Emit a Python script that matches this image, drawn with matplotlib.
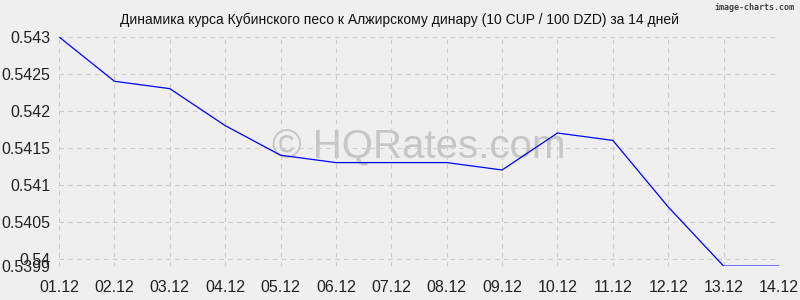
import matplotlib
matplotlib.use("Agg")
import matplotlib.pyplot as plt

plt.rcParams['font.family'] = ['Liberation Sans', 'DejaVu Sans']

dates = ["01.12", "02.12", "03.12", "04.12", "05.12", "06.12", "07.12",
         "08.12", "09.12", "10.12", "11.12", "12.12", "13.12", "14.12"]
rates = [0.5430, 0.5424, 0.5423, 0.5418, 0.5414, 0.5413, 0.5413,
         0.5413, 0.5412, 0.5417, 0.5416, 0.5407, 0.5399, 0.5399]
yticks = [0.5399, 0.54, 0.5405, 0.541, 0.5415, 0.542, 0.5425, 0.543]
ytick_labels = ["0.5399", "0.54", "0.5405", "0.541", "0.5415", "0.542", "0.5425", "0.543"]
title = "Динамика курса Кубинского песо к Алжирскому динару (10 CUP / 100 DZD) за 14 дней"

bg = '#efefef'
fig = plt.figure(figsize=(8, 3), dpi=100, facecolor=bg)
ax = fig.add_axes([0.07375, 0.113, 0.9, 0.764], facecolor=bg)

x = list(range(len(dates)))
ax.plot(x, rates, color='#0000ff', linewidth=0.9, zorder=3)

ax.set_xlim(0, len(dates) - 1)
ax.set_ylim(min(yticks), max(yticks))
ax.set_xticks(x)
ax.set_xticklabels(dates)
ax.set_yticks(yticks)
ax.set_yticklabels(ytick_labels)
ax.tick_params(axis='both', labelsize=11.5, colors='#222222')
ax.tick_params(axis='x', pad=10, length=0)
ax.tick_params(axis='y', length=0, pad=6)

ax.grid(True, color='#cccccc', linestyle=(0, (4, 4)), linewidth=0.8, zorder=2)
ax.set_axisbelow(False)
for s in ax.spines.values():
    s.set_visible(False)

# watermark
ax.text(0.5, 0.52, "© HQRates.com", transform=ax.transAxes, ha='center', va='center',
        fontsize=29, color='#c6c6c6', zorder=1)

fig.text(0.5, 0.933, title, ha='center', va='center', fontsize=10, color='#111111')
fig.text(0.993, 0.975, "image-charts.com", ha='right', va='center', fontsize=6,
         family='DejaVu Sans Mono', weight='bold', color='#444444')

fig.savefig("out.png", dpi=100, facecolor=bg)
